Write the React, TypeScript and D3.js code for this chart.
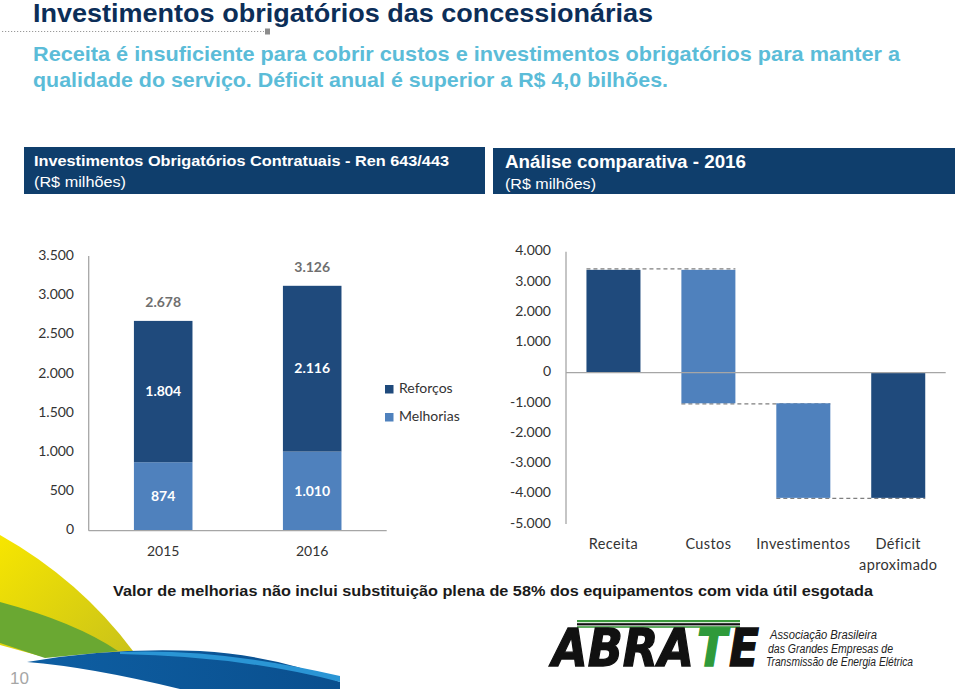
import React from "react";
import * as d3 from "d3";

const years = ["2015", "2016"];
const melhorias = [874, 1010];
const reforcos = [1804, 2116];
const leftTicks = [0, 500, 1000, 1500, 2000, 2500, 3000, 3500];

const wfCategories = ["Receita", "Custos", "Investimentos", "Déficit aproximado"];
const wfValues = [3400, -4410, -3126, -4136];
const wfIsTotal = [false, false, false, true];
const wfColors = ["#1f4a7c", "#4f81bd", "#4f81bd", "#1f4a7c"];
const wfTicks = [4000, 3000, 2000, 1000, 0, -1000, -2000, -3000, -4000, -5000];

const DARK = "#1f4a7c";
const LIGHT = "#4f81bd";
const NAVY_BOX = "#0f3e6c";

const loc = d3.formatLocale({ decimal: ",", thousands: ".", grouping: [3], currency: ["R$", ""], minus: "-" });
const fmt = loc.format(",d");

const CHART_FONT = "Lato, 'Open Sans', sans-serif";
const HEAD_FONT = "'Liberation Sans Narrow', 'Liberation Sans', Arial, sans-serif";
const ARIAL = "'Liberation Sans', Arial, sans-serif";

export default function App() {
  const yL = d3.scaleLinear().domain([0, 3500]).range([530.7, 256.5]);
  const xL = d3.scaleBand().domain(years).range([88.7, 386.7]).paddingInner(0.607).paddingOuter(0.3035);

  const yR = d3.scaleLinear().domain([-5000, 4000]).range([524, 251.7]);
  const xR = d3.scaleBand().domain(wfCategories).range([566, 945.7]).paddingInner(0.431).paddingOuter(0.2155);

  let run = 0;
  const wf = wfValues.map((v, i) => {
    if (wfIsTotal[i]) {
      const r = { start: 0, end: v };
      run = v;
      return r;
    }
    const r = { start: run, end: run + v };
    run += v;
    return r;
  });

  const logoFont = "'DejaVu Sans', sans-serif";

  return (
    <svg width={960} height={689} style={{ position: "absolute", left: 0, top: 0, background: "#fff" }}>
      <defs>
        <linearGradient id="yel" x1="0" y1="0" x2="1" y2="1">
          <stop offset="0" stopColor="#f7e600" />
          <stop offset="1" stopColor="#c9c21a" />
        </linearGradient>
        <linearGradient id="blu" x1="0" y1="0" x2="1" y2="0">
          <stop offset="0" stopColor="#0e5fa3" />
          <stop offset="1" stopColor="#0a4f8e" />
        </linearGradient>
      </defs>

      {/* Title */}
      <text x={33} y={22} fontFamily={HEAD_FONT} fontWeight="bold" fontSize={25.5} fill="#0c2e58"
        textLength={620} lengthAdjust="spacingAndGlyphs">Investimentos obrigatórios das concessionárias</text>
      <line x1={2} x2={264} y1={31.5} y2={31.5} stroke="#9a9a9a" strokeWidth={1.2} strokeDasharray="1.2,1.8" />
      <rect x={265} y={28.5} width={5} height={6} fill="#8c8c8c" />
      <text x={33} y={61} fontFamily={HEAD_FONT} fontWeight="bold" fontSize={21} fill="#5bbcd8"
        textLength={867} lengthAdjust="spacingAndGlyphs">Receita é insuficiente para cobrir custos e investimentos obrigatórios para manter a</text>
      <text x={33} y={87} fontFamily={HEAD_FONT} fontWeight="bold" fontSize={21} fill="#5bbcd8"
        textLength={635} lengthAdjust="spacingAndGlyphs">qualidade do serviço. Déficit anual é superior a R$ 4,0 bilhões.</text>

      {/* Header boxes */}
      <rect x={24} y={147} width={461} height={47} fill={NAVY_BOX} />
      <text x={34} y={166} fontFamily={ARIAL} fontWeight="bold" fontSize={15.5} fill="#fff"
        textLength={415} lengthAdjust="spacingAndGlyphs">Investimentos Obrigatórios Contratuais - Ren 643/443</text>
      <text x={34} y={187} fontFamily={ARIAL} fontSize={15} fill="#fff"
        textLength={92} lengthAdjust="spacingAndGlyphs">(R$ milhões)</text>
      <rect x={493} y={148} width={462} height={46} fill={NAVY_BOX} />
      <text x={505} y={168} fontFamily={ARIAL} fontWeight="bold" fontSize={18} fill="#fff"
        textLength={241} lengthAdjust="spacingAndGlyphs">Análise comparativa - 2016</text>
      <text x={505} y={189} fontFamily={ARIAL} fontSize={15} fill="#fff"
        textLength={91} lengthAdjust="spacingAndGlyphs">(R$ milhões)</text>

      {/* Left chart */}
      <g fontFamily={CHART_FONT}>
        {leftTicks.map((t) => (
          <text key={t} x={74} y={yL(t)} textAnchor="end" dominantBaseline="middle" fontSize={14} fill="#333">{fmt(t)}</text>
        ))}
        {years.map((yr, i) => {
          const x0 = xL(yr)!;
          const bw = xL.bandwidth();
          const m = melhorias[i];
          const r = reforcos[i];
          const tot = m + r;
          return (
            <g key={yr}>
              <rect x={x0} y={yL(m)} width={bw} height={yL(0) - yL(m)} fill={LIGHT} />
              <rect x={x0} y={yL(tot)} width={bw} height={yL(m) - yL(tot)} fill={DARK} />
              <text x={x0 + bw / 2} y={(yL(0) + yL(m)) / 2 + 1} textAnchor="middle" dominantBaseline="middle" fontWeight="bold" fontSize={14} fill="#fff">{fmt(m)}</text>
              <text x={x0 + bw / 2} y={(yL(m) + yL(tot)) / 2 + 1} textAnchor="middle" dominantBaseline="middle" fontWeight="bold" fontSize={14} fill="#fff">{fmt(r)}</text>
              <text x={x0 + bw / 2} y={yL(tot) - 17} textAnchor="middle" dominantBaseline="middle" fontWeight="bold" fontSize={14} fill="#6f6f6f">{fmt(tot)}</text>
              <text x={x0 + bw / 2} y={552} textAnchor="middle" dominantBaseline="middle" fontSize={14} fill="#333">{yr}</text>
            </g>
          );
        })}
        <line x1={88.7} x2={88.7} y1={256} y2={yL(0)} stroke="#a6a6a6" strokeWidth={1.3} />
        <line x1={88.7} x2={386.7} y1={yL(0)} y2={yL(0)} stroke="#a6a6a6" strokeWidth={1.3} />
        <rect x={385} y={385} width={8.5} height={8.5} fill={DARK} />
        <text x={399} y={389.5} dominantBaseline="middle" fontSize={14} fill="#333">Reforços</text>
        <rect x={385} y={413} width={8.5} height={8.5} fill={LIGHT} />
        <text x={399} y={417.5} dominantBaseline="middle" fontSize={14} fill="#333">Melhorias</text>
      </g>

      {/* Right waterfall chart */}
      <g fontFamily={CHART_FONT}>
        {wfTicks.map((t) => (
          <text key={t} x={551} y={yR(t)} textAnchor="end" dominantBaseline="middle" fontSize={14} fill="#333">{fmt(t)}</text>
        ))}
        {wf.slice(0, -1).map((d, i) => {
          const xa = xR(wfCategories[i])!;
          const xb = xR(wfCategories[i + 1])! + xR.bandwidth();
          const yy = yR(d.end) + (i === 0 ? -1 : 0.5);
          return (
            <line key={"c" + i} x1={xa} x2={xb} y1={yy} y2={yy} stroke="#7f7f7f" strokeWidth={1.2} strokeDasharray="4,3" />
          );
        })}
        {wf.map((d, i) => {
          const x0 = xR(wfCategories[i])!;
          const top = yR(Math.max(d.start, d.end));
          const bot = yR(Math.min(d.start, d.end));
          return <rect key={i} x={x0} y={top} width={xR.bandwidth()} height={bot - top} fill={wfColors[i]} />;
        })}
        <line x1={566} x2={566} y1={251.7} y2={524} stroke="#a6a6a6" strokeWidth={1.3} />
        <line x1={566} x2={945.7} y1={yR(0)} y2={yR(0)} stroke="#a6a6a6" strokeWidth={1.3} />
        {wfCategories.map((c) => {
          const cx = xR(c)! + xR.bandwidth() / 2;
          const parts = c === "Déficit aproximado" ? ["Déficit", "aproximado"] : [c];
          return parts.map((p, j) => (
            <text key={c + j} x={cx} y={545 + j * 21} textAnchor="middle" dominantBaseline="middle" fontSize={14.5} fill="#333" letterSpacing={0.4}>{p}</text>
          ));
        })}
      </g>

      {/* Footer note */}
      <text x={113} y={596} fontFamily={ARIAL} fontWeight="bold" fontSize={15} fill="#1a1a1a"
        textLength={760} lengthAdjust="spacingAndGlyphs">Valor de melhorias não inclui substituição plena de 58% dos equipamentos com vida útil esgotada</text>

      {/* Decoration bottom-left */}
      <path d="M0,535 Q 80,580 133,651 L 40,656 L 0,645 Z" fill="url(#yel)" />
      <path d="M0,602 Q 75,622 118,651 L 45,658 L 0,643 Z" fill="#6aa832" />
      <path d="M27,662 Q 110,647 200,651 Q 280,656 340,682 L 340,689 L 180,689 Q 90,667 27,662 Z" fill="url(#blu)" />
      <path d="M120,652 Q 220,648 340,676 L 340,682 Q 240,656 120,654 Z" fill="#2a95d5" />
      <text x={10} y={684} fontFamily={ARIAL} fontSize={17} fill="#a6a6a6">10</text>

      {/* Logo */}
      <rect x={577} y={620} width={163} height={2.2} fill="#3c9a3c" />
      <rect x={577} y={623.2} width={163} height={2.2} fill="#111" />
      <rect x={577} y={626.2} width={163} height={1.6} fill="#3c9a3c" />
      <g transform="translate(0,666) scale(1,1.13) translate(0,-666)">
        <text x={552} y={666} fontFamily={logoFont} fontWeight="bold" fontStyle="italic" fontSize={45}
          textLength={142} lengthAdjust="spacingAndGlyphs" fill="#111" stroke="#111" strokeWidth={1.2}>ABRA</text>
        <text x={697} y={666} fontFamily={logoFont} fontWeight="bold" fontStyle="italic" fontSize={45}
          textLength={30} lengthAdjust="spacingAndGlyphs" fill="#2f9a3a" stroke="#2f9a3a" strokeWidth={1.2}>T</text>
        <text x={729} y={666} fontFamily={logoFont} fontWeight="bold" fontStyle="italic" fontSize={45}
          textLength={30} lengthAdjust="spacingAndGlyphs" fill="#111" stroke="#111" strokeWidth={1.2}>E</text>
      </g>
      <g fontFamily={ARIAL} fontStyle="italic" fontSize={12} fill="#222">
        <text x={770} y={639} textLength={107} lengthAdjust="spacingAndGlyphs">Associação Brasileira</text>
        <text x={768} y={652.5} textLength={125} lengthAdjust="spacingAndGlyphs">das Grandes Empresas de</text>
        <text x={766} y={666} textLength={147} lengthAdjust="spacingAndGlyphs">Transmissão de Energia Elétrica</text>
      </g>
    </svg>
  );
}
